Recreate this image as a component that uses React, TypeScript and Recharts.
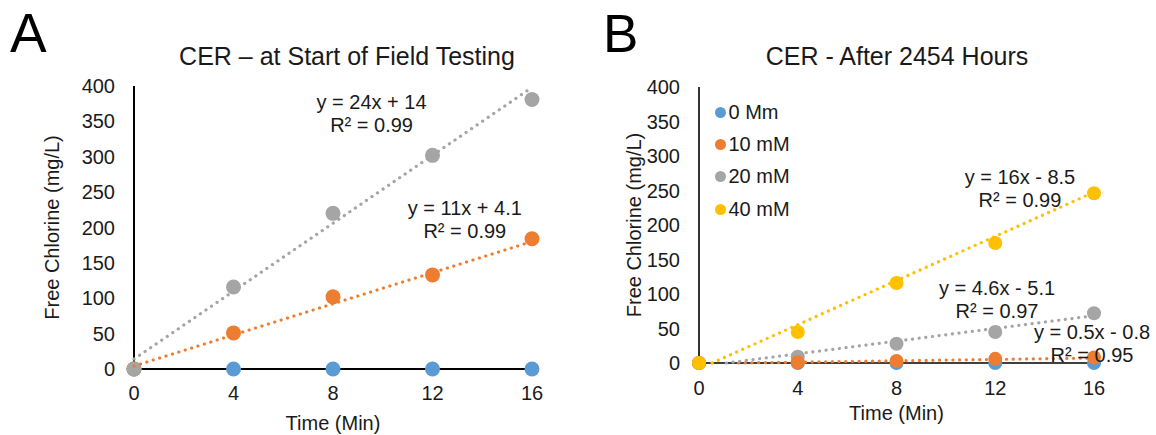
import React from 'react';
import { ScatterChart, Scatter, XAxis, YAxis, ReferenceDot, Legend } from 'recharts';

// ---------- data ----------
const TIME = [0, 4, 8, 12, 16];
const X_TICKS = [0, 4, 8, 12, 16];
const Y_TICKS = [0, 50, 100, 150, 200, 250, 300, 350, 400];

const SERIES_NAMES = ['0 Mm', '10 mM', '20 mM', '40 mM'];
const COLORS = ['#5B9BD5', '#ED7D31', '#A5A5A5', '#FFC000'];

// Panel A – at start of field testing
const A_0MM = [0, 0, 0, 0, 0];
const A_10MM = [0, 51, 102, 133, 184];
const A_20MM = [0, 116, 220, 302, 381];
const A_TREND_10 = [11, 4.1]; // slope, intercept
const A_TREND_20 = [24, 14];
const A_EQ_TEXT = [
  ['y = 24x + 14', 'R² = 0.99'],
  ['y = 11x + 4.1', 'R² = 0.99'],
];
const A_EQ_AT = [
  [9.55, 377],
  [13.3, 228],
];

// Panel B – after 2454 hours
const B_0MM = [0, 0, 0, 0, 0];
const B_10MM = [0, 1, 3, 6, 8];
const B_20MM = [0, 9, 28, 45, 72];
const B_40MM = [0, 45, 116, 174, 246];
const B_TREND_10 = [0.5, -0.8];
const B_TREND_20 = [4.6, -5.1];
const B_TREND_40 = [16, -8.5];
const B_EQ_TEXT = [
  ['y = 16x - 8.5', 'R² = 0.99'],
  ['y = 4.6x - 5.1', 'R² = 0.97'],
  ['y = 0.5x - 0.8', 'R² = 0.95'],
];
const B_EQ_AT = [
  [13.0, 269],
  [12.07, 109],
  [15.92, 45],
];

// ---------- helpers ----------
const pts = (vals: number[]) => TIME.map((x, i) => ({ x, y: vals[i] }));
const trend = (c: number[]) => {
  const [m, b] = c;
  const x0 = b < 0 ? -b / m : 0;
  const x1 = TIME[TIME.length - 1];
  return [
    { x: x0, y: m * x0 + b },
    { x: x1, y: m * x1 + b },
  ];
};

const FONT = '"Liberation Sans", Arial, Helvetica, sans-serif';
const TXT = '#1a1a1a';

const marker = (color: string, r: number) => (p: any) =>
  p.cx == null ? <g /> : <circle cx={p.cx} cy={p.cy} r={r} fill={color} />;
const noShape = () => <g />;

const dotted = (color: string) => ({
  stroke: color,
  strokeWidth: 3.2,
  strokeDasharray: '0.1 6.6',
  strokeLinecap: 'round' as const,
});

const eqLabel = (lines: string[]) => (props: any) => {
  const vb = props.viewBox || {};
  const cx = vb.x + (vb.width || 0) / 2;
  const cy = vb.y + (vb.height || 0) / 2;
  return (
    <text x={cx} y={cy} textAnchor="middle" fontSize={20} fill={TXT} fontFamily={FONT}>
      <tspan x={cx} dy="0.35em">{lines[0]}</tspan>
      <tspan x={cx} dy={23}>{lines[1]}</tspan>
    </text>
  );
};

const yLabel = (dx: number) => (props: any) => {
  const vb = props.viewBox || {};
  const cx = vb.x + dx;
  const cy = vb.y + vb.height / 2;
  return (
    <text
      x={cx}
      y={cy}
      dy="0.35em"
      transform={`rotate(-90, ${cx}, ${cy})`}
      textAnchor="middle"
      fontSize={20}
      fill={TXT}
      fontFamily={FONT}
    >
      Free Chlorine (mg/L)
    </text>
  );
};

const xLabel = (dy: number) => (props: any) => {
  const vb = props.viewBox || {};
  const cx = vb.x + vb.width / 2;
  const cy = vb.y + dy;
  return (
    <text x={cx} y={cy} dy="0.35em" textAnchor="middle" fontSize={20} fill={TXT} fontFamily={FONT}>
      Time (Min)
    </text>
  );
};

const legendContent = () => (
  <div style={{ fontFamily: FONT, fontSize: 20, color: TXT }}>
    {SERIES_NAMES.map((n, i) => (
      <div key={n} style={{ height: 32.3, display: 'flex', alignItems: 'center', whiteSpace: 'nowrap' }}>
        <span
          style={{
            display: 'inline-block',
            width: 11,
            height: 11,
            borderRadius: '50%',
            background: COLORS[i],
            marginRight: 3,
          }}
        />
        <span>{n}</span>
      </div>
    ))}
  </div>
);

const tickStyle = { fontSize: 20, fill: TXT, fontFamily: FONT };

function PanelA() {
  return (
    <ScatterChart width={580} height={435} margin={{ top: 86, right: 48, bottom: 36, left: 74 }}>
      <XAxis
        type="number"
        dataKey="x"
        domain={[0, 16]}
        ticks={X_TICKS}
        tickLine={false}
        tickSize={0}
        tickMargin={17}
        height={30}
        axisLine={{ stroke: '#000', strokeWidth: 2 }}
        tick={tickStyle}
        label={{ content: xLabel(54) }}
      />
      <YAxis
        type="number"
        dataKey="y"
        domain={[0, 400]}
        ticks={Y_TICKS}
        tickLine={false}
        tickSize={0}
        tickMargin={19}
        width={60}
        axisLine={{ stroke: '#000', strokeWidth: 2 }}
        tick={tickStyle}
        label={{ content: yLabel(-22) }}
      />
      <Scatter name={SERIES_NAMES[0]} data={pts(A_0MM)} fill={COLORS[0]} shape={marker(COLORS[0], 7.5)} isAnimationActive={false} />
      <Scatter name={SERIES_NAMES[1]} data={pts(A_10MM)} fill={COLORS[1]} shape={marker(COLORS[1], 7.5)} isAnimationActive={false} />
      <Scatter name={SERIES_NAMES[2]} data={pts(A_20MM)} fill={COLORS[2]} shape={marker(COLORS[2], 7.5)} isAnimationActive={false} />
      <Scatter data={trend(A_TREND_10)} fill={COLORS[1]} line={dotted(COLORS[1])} shape={noShape} legendType="none" isAnimationActive={false} />
      <Scatter data={trend(A_TREND_20)} fill={COLORS[2]} line={dotted(COLORS[2])} shape={noShape} legendType="none" isAnimationActive={false} />
      {A_EQ_TEXT.map((lines, i) => (
        <ReferenceDot
          key={i}
          x={A_EQ_AT[i][0]}
          y={A_EQ_AT[i][1]}
          r={0}
          fill="none"
          stroke="none"
          label={{ content: eqLabel(lines) }}
        />
      ))}
    </ScatterChart>
  );
}

function PanelB() {
  return (
    <ScatterChart width={576} height={435} margin={{ top: 87, right: 62, bottom: 42, left: 59 }}>
      <XAxis
        type="number"
        dataKey="x"
        domain={[0, 16]}
        ticks={X_TICKS}
        tickLine={false}
        tickSize={0}
        tickMargin={18}
        height={30}
        axisLine={{ stroke: '#000', strokeWidth: 1.6 }}
        tick={tickStyle}
        label={{ content: xLabel(50) }}
      />
      <YAxis
        type="number"
        dataKey="y"
        domain={[0, 400]}
        ticks={Y_TICKS}
        tickLine={false}
        tickSize={0}
        tickMargin={19}
        width={60}
        axisLine={{ stroke: '#000', strokeWidth: 1.6 }}
        tick={tickStyle}
        label={{ content: yLabel(-5) }}
      />
      <Legend
        layout="vertical"
        align="center"
        verticalAlign="middle"
        width={120}
        height={130}
        wrapperStyle={{ left: 134.5, top: 96 }}
        content={legendContent}
      />
      <Scatter name={SERIES_NAMES[0]} data={pts(B_0MM)} fill={COLORS[0]} shape={marker(COLORS[0], 7)} isAnimationActive={false} />
      <Scatter name={SERIES_NAMES[2]} data={pts(B_20MM)} fill={COLORS[2]} shape={marker(COLORS[2], 7)} isAnimationActive={false} />
      <Scatter name={SERIES_NAMES[1]} data={pts(B_10MM)} fill={COLORS[1]} shape={marker(COLORS[1], 7)} isAnimationActive={false} />
      <Scatter name={SERIES_NAMES[3]} data={pts(B_40MM)} fill={COLORS[3]} shape={marker(COLORS[3], 7)} isAnimationActive={false} />
      <Scatter data={trend(B_TREND_10)} fill={COLORS[1]} line={dotted(COLORS[1])} shape={noShape} legendType="none" isAnimationActive={false} />
      <Scatter data={trend(B_TREND_20)} fill={COLORS[2]} line={dotted(COLORS[2])} shape={noShape} legendType="none" isAnimationActive={false} />
      <Scatter data={trend(B_TREND_40)} fill={COLORS[3]} line={dotted(COLORS[3])} shape={noShape} legendType="none" isAnimationActive={false} />
      {B_EQ_TEXT.map((lines, i) => (
        <ReferenceDot
          key={i}
          x={B_EQ_AT[i][0]}
          y={B_EQ_AT[i][1]}
          r={0}
          fill="none"
          stroke="none"
          label={{ content: eqLabel(lines) }}
        />
      ))}
    </ScatterChart>
  );
}

export default function App() {
  const title: React.CSSProperties = {
    position: 'absolute',
    width: 600,
    textAlign: 'center',
    fontSize: 25,
    lineHeight: '30px',
    color: TXT,
    whiteSpace: 'nowrap',
  };
  const letter: React.CSSProperties = {
    position: 'absolute',
    fontSize: 55,
    lineHeight: '55px',
    color: '#000',
  };
  return (
    <div
      style={{
        position: 'absolute',
        left: 0,
        top: 0,
        width: 1156,
        height: 435,
        background: '#fff',
        fontFamily: FONT,
        overflow: 'hidden',
      }}
    >
      <div style={{ position: 'absolute', left: 0, top: 0 }}>
        <PanelA />
      </div>
      <div style={{ position: 'absolute', left: 580, top: 0 }}>
        <PanelB />
      </div>
      <div style={{ ...letter, left: 10, top: 6 }}>A</div>
      <div style={{ ...letter, left: 603, top: 7, fontSize: 53, lineHeight: '53px' }}>B</div>
      <div style={{ ...title, left: 347 - 300, top: 41 }}>CER – at Start of Field Testing</div>
      <div style={{ ...title, left: 897 - 300, top: 41 }}>CER - After 2454 Hours</div>
    </div>
  );
}
